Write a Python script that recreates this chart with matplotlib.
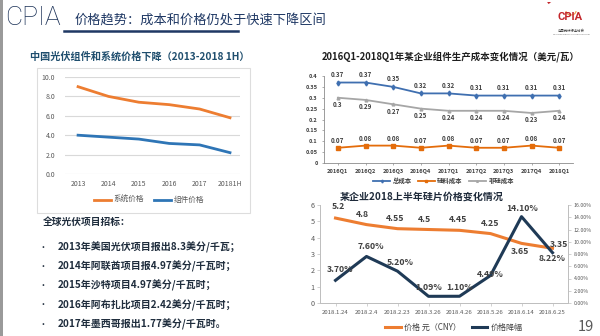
import matplotlib
matplotlib.use("Agg")
import matplotlib.pyplot as plt
import numpy as np
from matplotlib.patches import Rectangle, Arc

plt.rcParams["font.family"] = ["Noto Sans CJK SC", "DejaVu Sans"]

W, H = 600, 336

# China PV system / module price (yuan per watt)
years = ["2013", "2014", "2015", "2016", "2017", "20181H"]
system_price = [9.0, 8.0, 7.4, 7.15, 6.7, 5.8]
module_price = [4.0, 3.8, 3.6, 3.15, 3.0, 2.2]

# Quarterly module production cost (USD per watt)
quarters = ["2016Q1", "2016Q2", "2016Q3", "2016Q4", "2017Q1",
            "2017Q2", "2017Q3", "2017Q4", "2018Q1"]
total_cost = [0.37, 0.37, 0.35, 0.32, 0.32, 0.31, 0.31, 0.31, 0.31]
silicon_cost = [0.07, 0.08, 0.08, 0.07, 0.08, 0.07, 0.07, 0.08, 0.07]
non_silicon_cost = [0.30, 0.29, 0.27, 0.25, 0.24, 0.24, 0.24, 0.23, 0.24]

# Wafer price, first half of 2018
dates = ["2018.1.24", "2018.2.4", "2018.2.23", "2018.3.26",
         "2018.4.26", "2018.5.26", "2018.6.14", "2018.6.25"]
wafer_price = [5.2, 4.8, 4.55, 4.5, 4.45, 4.25, 3.65, 3.35]
price_drop = [3.70, 7.60, 5.20, 1.09, 1.10, 4.49, 14.10, 8.22]

tenders = [
    "2013年美国光伏项目报出8.3美分/千瓦；",
    "2014年阿联酋项目报4.97美分/千瓦时；",
    "2015年沙特项目4.97美分/千瓦时；",
    "2016年阿布扎比项目2.42美分/千瓦时；",
    "2017年墨西哥报出1.77美分/千瓦时。",
]

ORANGE = "#ED7D31"
NAVY = "#1F3A56"
TICK = "#595959"


def px_axes(fig, left, top, right, bottom):
    return fig.add_axes([left / W, 1 - bottom / H, (right - left) / W, (bottom - top) / H])


def fx(x):
    return x / W


def fy(y):
    return 1 - y / H


fig = plt.figure(figsize=(6, 3.36), dpi=100)
fig.patch.set_facecolor("white")

# slide frame and header
fig.add_artist(Rectangle((0, 0), fx(3), 1, transform=fig.transFigure,
                         facecolor="#9a9a9a", edgecolor="none"))
fig.text(fx(5), fy(18), "CPIA", fontsize=19, color="#1B3157", weight="light",
         family=["Roboto", "DejaVu Sans"], va="center", ha="left")
fig.text(fx(75), fy(20), "价格趋势：成本和价格仍处于快速下降区间", fontsize=9.5,
         color="#1F3864", va="center", ha="left")
fig.add_artist(plt.Line2D([fx(64), fx(238)], [fy(31), fy(31)], transform=fig.transFigure,
                          color="#1F3864", lw=1.8))

# association logo
logo = px_axes(fig, 540, 2, 600, 40)
logo.set_xlim(0, 60)
logo.set_ylim(38, 0)
logo.axis("off")
logo.text(30, 15, "CPIA", fontsize=8, color="#C3262B", weight="bold",
          ha="center", va="center", family=["Roboto", "DejaVu Sans"])
logo.add_patch(Arc((31, 9), 10, 8, theta1=0, theta2=180, color="#F0A050", lw=0.8))
logo.add_patch(Arc((32, 10), 56, 34, theta1=200, theta2=330, color="#C3262B", lw=1.6))
logo.text(31, 29, "中国光伏行业协会", fontsize=2.4, color="#333333", ha="center", va="center")
logo.text(31, 32.5, "CHINA PHOTOVOLTAIC INDUSTRY ASSOCIATION", fontsize=1.2,
          color="#666666", ha="center", va="center")

# ---- left chart: system and module price
fig.text(fx(30), fy(57), "中国光伏组件和系统价格下降（2013-2018 1H）", fontsize=7.3,
         weight="bold", color="#1F4E6E", va="center", ha="left")
fig.add_artist(Rectangle((fx(37), fy(213)), fx(213), (213 - 68) / H, transform=fig.transFigure,
                         facecolor="none", edgecolor="#DDDDDD", lw=0.8))
ax1 = px_axes(fig, 65, 77, 240, 174)
x1 = np.arange(len(years))
ax1.plot(x1, system_price, color=ORANGE, lw=2, label="系统价格")
ax1.plot(x1, module_price, color="#2E75B6", lw=2, label="组件价格")
ax1.set_xlim(-0.43, 5.33)
ax1.set_ylim(0, 10)
ax1.set_yticks(range(0, 11, 2))
ax1.set_yticklabels([f"{v:.1f}" for v in range(0, 11, 2)])
ax1.set_xticks(x1)
ax1.set_xticklabels(years)
ax1.grid(axis="y", color="#D9D9D9", lw=0.8)
ax1.set_axisbelow(True)
for s in ax1.spines.values():
    s.set_visible(False)
ax1.tick_params(length=0, labelsize=5, labelcolor=TICK)
ax1.tick_params(axis="y", pad=7)
ax1.tick_params(axis="x", pad=4)
ax1.legend(loc="center", bbox_to_anchor=(0.48, -0.27), ncol=2, frameon=False,
           fontsize=5.5, handlelength=2.2, handletextpad=0.3, columnspacing=1.4,
           labelcolor=TICK)

# ---- top-right chart: module cost
fig.text(fx(322), fy(57), "2016Q1-2018Q1年某企业组件生产成本变化情况（美元/瓦）",
         fontsize=6.8, weight="bold", color="#1E1E1E", va="center", ha="left")
ax2 = px_axes(fig, 324, 76, 573, 163)
x2 = np.arange(len(quarters))
ax2.plot(x2, total_cost, color="#3F6FB0", lw=1.3, marker="d", ms=2.5, label="总成本")
ax2.plot(x2, silicon_cost, color="#E46C0A", lw=1.3, marker="s", ms=3, label="硅料成本")
ax2.plot(x2, non_silicon_cost, color="#A6A6A6", lw=1.3, marker="^", ms=2, label="非硅成本")
ax2.set_xlim(-0.5, 8.5)
ax2.set_ylim(0, 0.4)
yt = np.arange(0, 0.41, 0.05)
ax2.set_yticks(yt)
ax2.set_yticklabels([f"{v:g}" for v in np.round(yt, 2)])
ax2.set_xticks(x2)
ax2.set_xticklabels(quarters)
for s in ["top", "right"]:
    ax2.spines[s].set_visible(False)
for s in ["left", "bottom"]:
    ax2.spines[s].set_color("#8C8C8C")
    ax2.spines[s].set_linewidth(0.6)
ax2.tick_params(length=1.5, width=0.5, color="#8C8C8C", labelsize=4.1, labelcolor="#404040", pad=3)
for lab in ax2.get_xticklabels() + ax2.get_yticklabels():
    lab.set_fontweight("bold")
lbl = dict(fontsize=4.5, weight="bold", color="#404040", ha="center", va="center",
           textcoords="offset points")
for i in x2:
    ax2.annotate(f"{total_cost[i]:g}", (i, total_cost[i]), xytext=(0, 6), **lbl)
    ax2.annotate(f"{non_silicon_cost[i]:g}", (i, non_silicon_cost[i]), xytext=(0, -5), **lbl)
    ax2.annotate(f"{silicon_cost[i]:g}", (i, silicon_cost[i]), xytext=(0, 5), **lbl)
leg2 = ax2.legend(loc="center", bbox_to_anchor=(0.48, -0.205), ncol=3, frameon=False,
                  fontsize=4.6, handlelength=2.6, handletextpad=0.4, columnspacing=1.0,
                  markerscale=0.6)
for t in leg2.get_texts():
    t.set_fontweight("bold")
    t.set_color("#404040")

# ---- bottom-right chart: wafer price and drop
fig.text(fx(340), fy(197), "某企业2018上半年硅片价格变化情况", fontsize=7.2,
         weight="bold", color="#1E2A3A", va="center", ha="left")
ax3 = px_axes(fig, 320, 205, 568, 303)
ax3r = ax3.twinx()
x3 = np.arange(len(dates))
ln1 = ax3.plot(x3, wafer_price, color=ORANGE, lw=2.2, label="价格 元（CNY）")
ln2 = ax3r.plot(x3, price_drop, color=NAVY, lw=2.2, label="价格降幅")
ax3.set_xlim(-0.5, 7.5)
ax3.set_ylim(0, 6)
ax3r.set_ylim(0, 16)
ax3.set_yticks(range(0, 7))
ax3r.set_yticks(range(0, 17, 2))
ax3r.set_yticklabels([f"{v:.2f}%" for v in range(0, 17, 2)])
ax3.set_xticks(x3)
ax3.set_xticklabels(dates)
for a in (ax3, ax3r):
    a.spines["top"].set_visible(False)
    for s in ["left", "right", "bottom"]:
        a.spines[s].set_color("#BFBFBF")
        a.spines[s].set_linewidth(0.7)
ax3.tick_params(length=2, width=0.5, color="#BFBFBF", labelcolor=TICK, pad=2)
ax3.tick_params(axis="y", labelsize=5.2)
ax3.tick_params(axis="x", labelsize=4.3, pad=3)
ax3r.tick_params(length=2, width=0.5, color="#BFBFBF", labelcolor=TICK, labelsize=3.8, pad=2)

lbl3 = dict(fontsize=6.3, weight="bold", color="#404040", ha="center", va="center",
            textcoords="offset points")
price_offsets = [(2, 8), (-3, 7.5), (-2, 7.5), (-3, 7.5), (-1, 7.5), (0, 7.5), (-1, -6), (5, 2.5)]
drop_offsets = [(3.5, 8), (3, 7), (2, 6.5), (0, 6.5), (0, 6.5), (0, 1), (0.5, 6), (0, -4)]
for i in x3:
    ax3.annotate(f"{wafer_price[i]:g}", (i, wafer_price[i]), xytext=price_offsets[i], **lbl3)
    ax3r.annotate(f"{price_drop[i]:.2f}%", (i, price_drop[i]), xytext=drop_offsets[i], **lbl3)
ax3.legend(ln1 + ln2, [l.get_label() for l in ln1 + ln2], loc="center",
           bbox_to_anchor=(0.54, -0.245), ncol=2, frameon=False, fontsize=5.8,
           handlelength=1.9, handletextpad=0.4, columnspacing=1.4, labelcolor="#404040")

# ---- tender list
fig.text(fx(43), fy(222), "全球光伏项目招标：", fontsize=7, weight="bold",
         color="#1F2D3D", va="center", ha="left")
for i, line in enumerate(tenders):
    y = 247 + i * 19.3
    fig.text(fx(39), fy(y), "•", fontsize=6.5, color="#1F2D3D", va="center", ha="left")
    fig.text(fx(58), fy(y), line, fontsize=7.2, weight="bold", color="#1F2D3D",
             va="center", ha="left")

fig.text(fx(578), fy(327), "19", fontsize=10.5, color="#595959", va="center", ha="left")

fig.savefig("out.png", dpi=100)
